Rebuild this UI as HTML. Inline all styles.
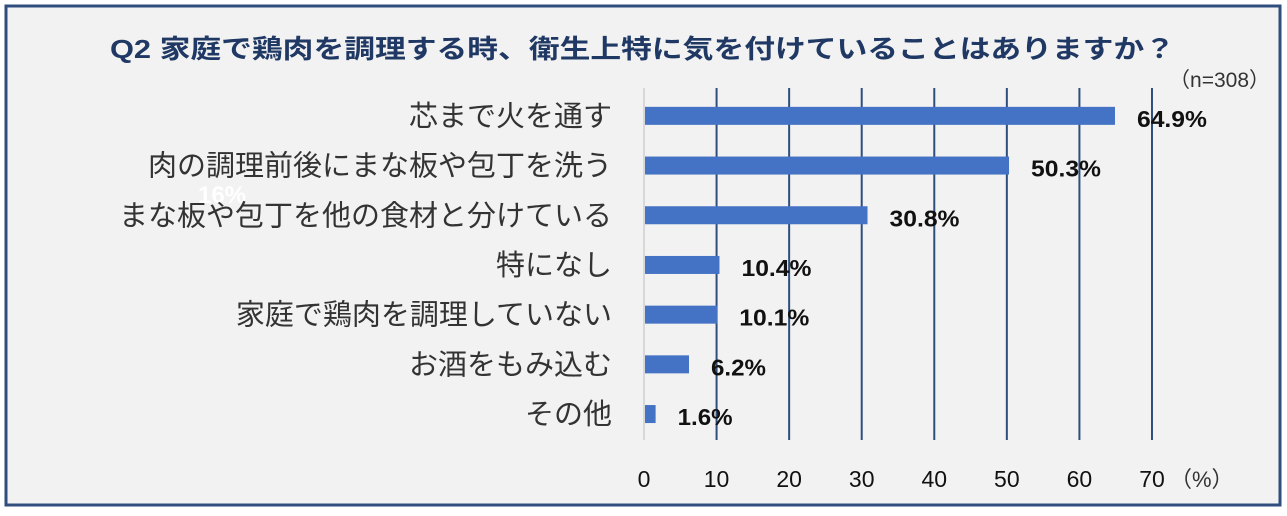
<!DOCTYPE html>
<html><head><meta charset="utf-8"><style>
body{margin:0;background:#fff;width:1287px;height:511px;overflow:hidden;font-family:"Liberation Sans","Noto Sans CJK JP",sans-serif;}
</style></head><body>
<svg width="1287" height="511">
<rect x="6" y="6" width="1274" height="499" fill="#f2f2f2" stroke="#2f4e7e" stroke-width="3"/>
<text x="110" y="58" textLength="1065" lengthAdjust="spacingAndGlyphs" font-size="26" font-weight="bold" fill="#1f3864" font-family="Liberation Sans,Noto Sans CJK JP,sans-serif">Q2  家庭で鶏肉を調理する時、衛生上特に気を付けていることはありますか？</text>
<text x="1270" y="87" text-anchor="end" font-size="21" fill="#333" font-family="Liberation Sans,Noto Sans CJK JP,sans-serif">（n=308）</text>
<text x="222" y="203" text-anchor="middle" font-size="24" font-weight="bold" fill="#ffffff">16%</text>
<g id="plot"></g>
</svg>
<script>
const categories=["芯まで火を通す","肉の調理前後にまな板や包丁を洗う","まな板や包丁を他の食材と分けている","特になし","家庭で鶏肉を調理していない","お酒をもみ込む","その他"];
const values=[64.9,50.3,30.8,10.4,10.1,6.2,1.6];
const ticks=[0,10,20,30,40,50,60,70];
const x0=644,pxPer=7.257,rowTop=91,rowH=49.7,barH=18;
const xs=v=>x0+v*pxPer;
const yc=i=>rowTop+rowH*(i+0.5);
const ns="http://www.w3.org/2000/svg";
const g=document.getElementById('plot');
function mk(t,a){const e=document.createElementNS(ns,t);for(const k in a)e.setAttribute(k,a[k]);g.appendChild(e);return e;}
ticks.forEach((t,i)=>{
 const l=mk('line',{x1:xs(t),x2:xs(t),y1:88,y2:440,stroke:t===0?'#d0d0d0':'#2f4e7e','stroke-width':t===0?1.5:2});
 
 
 const tx=mk('text',{x:xs(t),y:487,'text-anchor':'middle','font-size':23,fill:'#111'});
 tx.textContent=t;
 
 
});
const u=mk('text',{x:xs(70)+18,y:487,'font-size':22,fill:'#333','font-family':'Liberation Sans,Noto Sans CJK JP,sans-serif'});
u.textContent='（%）';


categories.forEach((c,i)=>{
 const y=yc(i);
 const lb=mk('text',{x:612,y:y+10,'text-anchor':'end','font-size':29,fill:'#333','font-family':'Liberation Sans,Noto Sans CJK JP,sans-serif'});
 lb.textContent=c;
 
 
 const b=mk('rect',{x:xs(0)+1,y:y-barH/2,width:Math.max(0,xs(values[i])-xs(0)-1),height:barH,fill:'#4472c4'});
 
 
 const v=mk('text',{x:xs(values[i])+22,y:y+11,'font-size':23,'font-weight':'bold',fill:'#111',textLength:values[i]>=10?70:55,lengthAdjust:'spacingAndGlyphs'});
 v.textContent=values[i].toFixed(1)+'%';
 
 
});
</script>
</body></html>
